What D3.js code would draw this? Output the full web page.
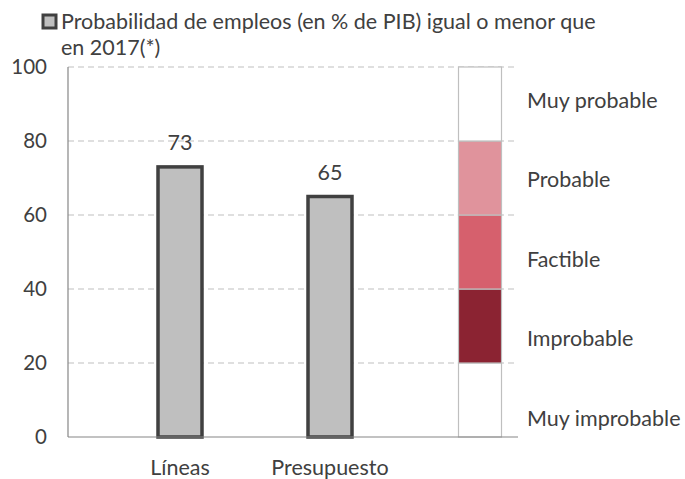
<!DOCTYPE html>
<html>
<head>
<meta charset="utf-8">
<script src="https://cdn.jsdelivr.net/npm/d3@7"></script>
<style>
  body { margin: 0; background: #fff; }
  svg text { font-family: Lato, "Open Sans", sans-serif; fill: #404040; }
</style>
</head>
<body>
<div id="chart"></div>
<script>
const categories = ["Líneas", "Presupuesto"];
const values = [73, 65];
const yTicks = [0, 20, 40, 60, 80, 100];
const scaleBands = [
  { from: 0, to: 20, label: "Muy improbable" },
  { from: 20, to: 40, label: "Improbable" },
  { from: 40, to: 60, label: "Factible" },
  { from: 60, to: 80, label: "Probable" },
  { from: 80, to: 100, label: "Muy probable" }
];
const bandColors = ["#ffffff", "#8b2332", "#d6606d", "#e0939c", "#ffffff"];
const legendLines = ["Probabilidad de empleos (en % de PIB) igual o menor que", "en 2017(*)"];

const width = 685;
const height = 479;
const fontSize = 21.5;

const svg = d3.select("#chart").append("svg")
  .attr("width", width)
  .attr("height", height);

const plotLeft = 68;
const plotRight = 518;

const y = d3.scaleLinear().domain([0, 100]).range([437, 67]);
const x = d3.scaleBand()
  .domain([...categories, "escala"])
  .range([105, 555]);

// grid lines
svg.append("g")
  .selectAll("line")
  .data(yTicks.filter((d) => d > 0))
  .enter()
  .append("line")
  .attr("x1", plotLeft)
  .attr("x2", plotRight)
  .attr("y1", (d) => y(d))
  .attr("y2", (d) => y(d))
  .attr("stroke", "#bfbfbf")
  .attr("stroke-width", 1)
  .attr("stroke-dasharray", "6,4");

// y-axis labels
svg.append("g")
  .selectAll("text")
  .data(yTicks)
  .enter()
  .append("text")
  .attr("x", 47)
  .attr("y", (d) => y(d))
  .attr("dy", "0.35em")
  .attr("text-anchor", "end")
  .attr("font-size", 20.5)
  .text((d) => d);

// probability scale bar
const scaleW = 43;
const sx = x("escala") + x.bandwidth() / 2 - scaleW / 2;
svg.append("g")
  .selectAll("rect")
  .data(scaleBands)
  .enter()
  .append("rect")
  .attr("x", sx)
  .attr("y", (d) => y(d.to))
  .attr("width", scaleW)
  .attr("height", (d) => y(d.from) - y(d.to))
  .attr("fill", (d, i) => bandColors[i])
  .attr("stroke", "#bfbfbf")
  .attr("stroke-width", 1.2);

// scale labels sit evenly spaced down the right side
const labelY = d3.scalePoint()
  .domain(scaleBands.map((d) => d.label))
  .range([418, 100]);

svg.append("g")
  .selectAll("text")
  .data(scaleBands)
  .enter()
  .append("text")
  .attr("x", 527)
  .attr("y", (d) => labelY(d.label))
  .attr("dy", "0.35em")
  .attr("font-size", fontSize)
  .text((d) => d.label);

// bars
const barW = 44;
svg.append("g")
  .selectAll("rect")
  .data(values)
  .enter()
  .append("rect")
  .attr("x", (d, i) => x(categories[i]) + x.bandwidth() / 2 - barW / 2)
  .attr("y", (d) => y(d))
  .attr("width", barW)
  .attr("height", (d) => y(0) - y(d))
  .attr("fill", "#bfbfbf")
  .attr("stroke", "#404040")
  .attr("stroke-width", 3.5);

svg.append("g")
  .selectAll("text")
  .data(values)
  .enter()
  .append("text")
  .attr("x", (d, i) => x(categories[i]) + x.bandwidth() / 2)
  .attr("y", (d) => y(d) - 17)
  .attr("text-anchor", "middle")
  .attr("font-size", fontSize)
  .text((d) => d);

// axes lines
svg.append("line")
  .attr("x1", plotLeft).attr("x2", plotLeft)
  .attr("y1", y(100)).attr("y2", y(0))
  .attr("stroke", "#868686").attr("stroke-width", 1.2);
svg.append("line")
  .attr("x1", plotLeft).attr("x2", plotRight)
  .attr("y1", y(0)).attr("y2", y(0))
  .attr("stroke", "#868686").attr("stroke-width", 1.2);

// category labels
svg.append("g")
  .selectAll("text")
  .data(categories)
  .enter()
  .append("text")
  .attr("x", (d) => x(d) + x.bandwidth() / 2)
  .attr("y", 475)
  .attr("text-anchor", "middle")
  .attr("font-size", fontSize)
  .text((d) => d);

// legend
svg.append("rect")
  .attr("x", 43).attr("y", 15)
  .attr("width", 13).attr("height", 13)
  .attr("fill", "#bfbfbf")
  .attr("stroke", "#404040")
  .attr("stroke-width", 3);
svg.append("g")
  .selectAll("text")
  .data(legendLines)
  .enter()
  .append("text")
  .attr("x", 61)
  .attr("y", (d, i) => 29 + i * 26)
  .attr("font-size", fontSize)
  .text((d) => d);
</script>
</body>
</html>
